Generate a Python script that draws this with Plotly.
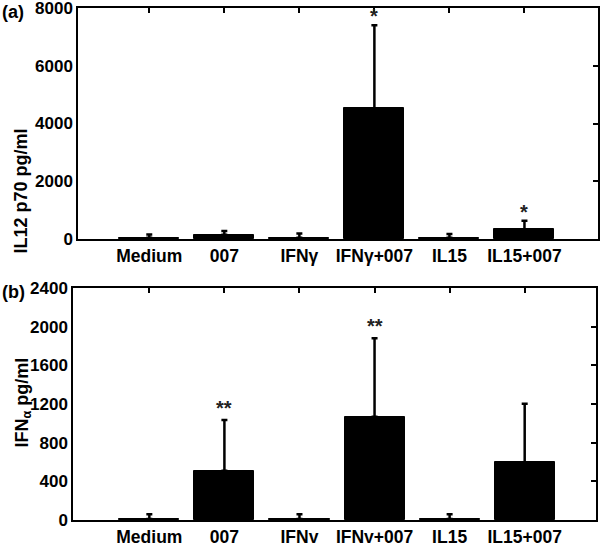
import plotly.graph_objects as go

categories = ["Medium", "007", "IFNγ", "IFNγ+007", "IL15", "IL15+007"]

# Panel (a) IL12 p70 pg/ml
il12_values = [40, 150, 40, 4520, 40, 330]
il12_err = [120, 130, 150, 2880, 130, 300]
il12_stars = ["", "", "", "*", "", "*"]

# Panel (b) IFNα pg/ml
ifna_values = [10, 510, 10, 1069, 10, 597]
ifna_err = [50, 524, 50, 810, 50, 606]
ifna_stars = ["", "**", "", "**", "", ""]

a_ticks = [0, 2000, 4000, 6000, 8000]
b_ticks = [0, 400, 800, 1200, 1600, 2000, 2400]

W, H = 601, 543
xpos = list(range(len(categories)))

xfont = dict(family="Liberation Sans, Arial", size=17.5, color="black", weight="bold")
yfont = dict(family="Liberation Sans, Arial", size=17, color="black", weight="bold")

fig = go.Figure()

def add_panel(vals, errs, xa, ya):
    fig.add_trace(go.Bar(
        x=xpos, y=vals, width=0.8, xaxis=xa, yaxis=ya,
        marker=dict(color="black", line=dict(color="black", width=1)),
        error_y=dict(type="data", symmetric=False, array=errs,
                     arrayminus=[0] * len(errs), color="black",
                     thickness=2.5, width=3),
        showlegend=False, hoverinfo="skip",
    ))

add_panel(il12_values, il12_err, "x", "y")
add_panel(ifna_values, ifna_err, "x2", "y2")

def px_x(p):
    return p / W

def px_y(p):
    return 1 - p / H

a_dom_x = [px_x(78), px_x(598)]
a_dom_y = [px_y(239), px_y(8)]
b_dom_x = [px_x(73), px_x(596)]
b_dom_y = [px_y(520), px_y(288)]

a_xr = [-0.95, 5.98]
b_xr = [-1.017, 5.95]

line = dict(showline=True, linecolor="black", linewidth=1.5, mirror=True,
            showgrid=False, zeroline=False, automargin=False,
            ticklabeloverflow="allow")
ov = dict(ticks="inside", ticklen=5, tickwidth=1.5, tickcolor="black",
          showticklabels=False, showgrid=False, zeroline=False, automargin=False)

layout = dict(
    width=W, height=H,
    margin=dict(l=0, r=0, t=0, b=0, autoexpand=False),
    paper_bgcolor="white", plot_bgcolor="white",
    bargap=0,
    xaxis=dict(domain=a_dom_x, anchor="y", range=a_xr, tickvals=xpos,
               ticktext=categories, ticks="", tickfont=xfont, **line),
    yaxis=dict(domain=a_dom_y, anchor="x", range=[0, 8000], tickvals=a_ticks,
               ticks="", tickfont=yfont, **line),
    xaxis2=dict(domain=b_dom_x, anchor="y2", range=b_xr, tickvals=xpos,
                ticktext=categories, ticks="", tickfont=xfont, **line),
    yaxis2=dict(domain=b_dom_y, anchor="x2", range=[0, 2400], tickvals=b_ticks,
                ticks="", tickfont=yfont, **line),
    xaxis3=dict(overlaying="x", anchor="y", side="top", range=a_xr, tickvals=xpos, **ov),
    yaxis3=dict(overlaying="y", anchor="x", side="right", range=[0, 8000], tickvals=a_ticks, **ov),
    xaxis4=dict(overlaying="x2", anchor="y2", side="top", range=b_xr, tickvals=xpos, **ov),
    yaxis4=dict(overlaying="y2", anchor="x2", side="right", range=[0, 2400], tickvals=b_ticks, **ov),
)
fig.update_layout(**layout)

fig.add_trace(go.Scatter(x=[xpos[0]], y=[0], xaxis="x3", yaxis="y3", mode="markers",
                         marker=dict(opacity=0), showlegend=False, hoverinfo="skip"))
fig.add_trace(go.Scatter(x=[xpos[0]], y=[0], xaxis="x4", yaxis="y4", mode="markers",
                         marker=dict(opacity=0), showlegend=False, hoverinfo="skip"))

star_font = dict(family="Liberation Sans", size=20, color="#222", weight="bold")
ann = []
for i, s in enumerate(il12_stars):
    if s:
        ann.append(dict(x=xpos[i], y=il12_values[i] + il12_err[i], xref="x", yref="y",
                        text=s, showarrow=False, yanchor="bottom", yshift=-4,
                        font=star_font))
for i, s in enumerate(ifna_stars):
    if s:
        ann.append(dict(x=xpos[i], y=ifna_values[i] + ifna_err[i], xref="x2", yref="y2",
                        text=s, showarrow=False, yanchor="bottom", yshift=-1,
                        font=star_font))

title_font = dict(family="Liberation Sans, Arial", size=18, color="black", weight="bold")
ann.append(dict(x=px_x(9), y=px_y(127), xref="paper", yref="paper", text="IL12 p70 pg/ml",
                textangle=-90, showarrow=False, font=title_font))
ann.append(dict(x=px_x(9), y=px_y(450), xref="paper", yref="paper",
                text="IFN<sub>α</sub> pg/ml", textangle=-90, showarrow=False, font=title_font))
ann.append(dict(x=0, y=1, xref="paper", yref="paper", text="(a)", xanchor="left",
                yanchor="top", showarrow=False, font=title_font))
ann.append(dict(x=0, y=px_y(280), xref="paper", yref="paper", text="(b)", xanchor="left",
                yanchor="top", showarrow=False, font=title_font))
fig.update_layout(annotations=ann)

fig.write_html("out.html", config={"displayModeBar": False},
               post_script="document.body.style.margin='0';document.body.style.padding='0';")
